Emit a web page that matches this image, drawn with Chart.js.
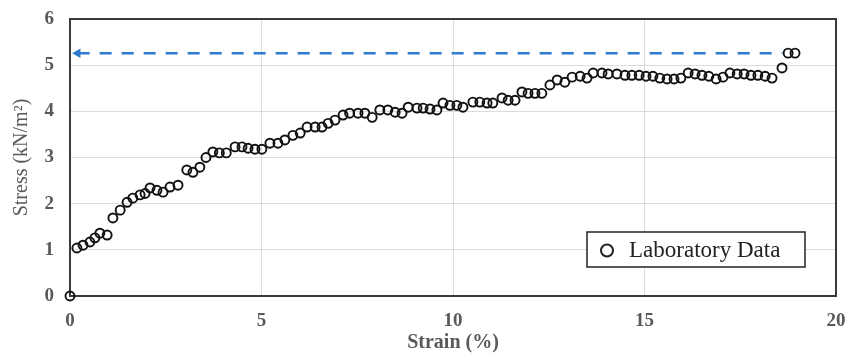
<!DOCTYPE html>
<html>
<head>
<meta charset="utf-8">
<script src="https://cdn.jsdelivr.net/npm/chart.js@4/dist/chart.umd.min.js"></script>
<style>
  body { margin: 0; background: #fff; }
</style>
</head>
<body>
<canvas id="chart" width="846" height="354"></canvas>
<script>
const strain = [
  0, 0.18, 0.34, 0.52, 0.65, 0.78, 0.97, 1.12, 1.31, 1.49, 1.64, 1.83, 1.96, 2.09, 2.27,
  2.43, 2.61, 2.82, 3.05, 3.21, 3.39, 3.55, 3.73, 3.90, 4.08, 4.31, 4.49, 4.65, 4.83,
  5.01, 5.22, 5.43, 5.61, 5.82, 6.01, 6.19, 6.40, 6.58, 6.74, 6.92, 7.13, 7.30, 7.52,
  7.70, 7.89, 8.09, 8.30, 8.49, 8.67, 8.83, 9.06, 9.22, 9.40, 9.58, 9.74, 9.92, 10.10,
  10.26, 10.52, 10.70, 10.89, 11.04, 11.28, 11.44, 11.62, 11.80, 11.96, 12.14, 12.32,
  12.53, 12.72, 12.92, 13.11, 13.32, 13.50, 13.66, 13.89, 14.05, 14.28, 14.49, 14.67,
  14.86, 15.04, 15.22, 15.40, 15.59, 15.77, 15.95, 16.14, 16.32, 16.50, 16.68, 16.87,
  17.05, 17.23, 17.42, 17.60, 17.78, 17.96, 18.15, 18.33, 18.59, 18.75, 18.93
];
const stress = [
  0, 1.04, 1.10, 1.17, 1.26, 1.36, 1.32, 1.69, 1.86, 2.03, 2.12, 2.19, 2.22, 2.34, 2.29,
  2.25, 2.36, 2.40, 2.73, 2.68, 2.79, 3.00, 3.12, 3.10, 3.10, 3.23, 3.23, 3.20, 3.18,
  3.18, 3.31, 3.31, 3.38, 3.48, 3.53, 3.66, 3.66, 3.66, 3.74, 3.81, 3.92, 3.96, 3.96,
  3.96, 3.87, 4.03, 4.03, 3.98, 3.96, 4.09, 4.07, 4.07, 4.05, 4.03, 4.18, 4.13, 4.13,
  4.09, 4.20, 4.20, 4.18, 4.18, 4.29, 4.24, 4.24, 4.42, 4.39, 4.39, 4.39,
  4.57, 4.68, 4.63, 4.74, 4.76, 4.72, 4.83, 4.83, 4.81, 4.81, 4.78, 4.78,
  4.78, 4.76, 4.76, 4.72, 4.70, 4.70, 4.72, 4.83, 4.81, 4.78, 4.76, 4.70,
  4.74, 4.83, 4.81, 4.81, 4.78, 4.78, 4.76, 4.72, 4.94, 5.26, 5.26
];
// dashed peak line (arrow end first)
const peakX = [0.2, 18.6];
const peakY = [5.26, 5.26];

const xTicks = [0, 5, 10, 15, 20];
const yTicks = [0, 1, 2, 3, 4, 5, 6];

const serif = "'Liberation Serif', 'Times New Roman', serif";
const gray = "#595959";

const frame = {
  id: "frame",
  beforeDatasetsDraw(chart) {
    const { ctx, chartArea: a } = chart;
    ctx.save();
    ctx.strokeStyle = "#3a3a3a";
    ctx.lineWidth = 2;
    ctx.strokeRect(a.left, a.top, a.right - a.left, a.bottom - a.top);
    ctx.restore();
  },
  afterDraw(chart) {
    // legend box inside the plot
    const { ctx, chartArea: a } = chart;
    const ds = chart.data.datasets[0];
    const w = 218, h = 35;
    const x = a.right - 249, y = a.top + 213;
    ctx.save();
    ctx.fillStyle = "#fff";
    ctx.fillRect(x, y, w, h);
    ctx.strokeStyle = "#222";
    ctx.lineWidth = 1.5;
    ctx.strokeRect(x, y, w, h);
    ctx.beginPath();
    ctx.arc(x + 20, y + h / 2 + 1, 6, 0, Math.PI * 2);
    ctx.lineWidth = 2;
    ctx.stroke();
    ctx.fillStyle = "#222";
    ctx.font = "23px " + serif;
    ctx.textBaseline = "middle";
    ctx.fillText(ds.label, x + 42, y + h / 2 + 1);
    ctx.restore();
  }
};

new Chart(document.getElementById("chart"), {
  type: "scatter",
  data: {
    datasets: [
      {
        label: "Laboratory Data",
        data: strain.map((s, i) => ({ x: s, y: stress[i] })),
        pointStyle: "circle",
        pointRadius: 4.5,
        pointBorderWidth: 1.9,
        borderColor: "#111",
        backgroundColor: "rgba(255,255,255,0)",
        showLine: false,
        clip: false,
        order: 1
      },
      {
        label: "Peak",
        data: peakX.map((s, i) => ({ x: s, y: peakY[i] })),
        showLine: true,
        borderColor: "#2E7BCF",
        backgroundColor: "#2E7BCF",
        borderWidth: 2.5,
        borderDash: [12, 10],
        pointStyle: "triangle",
        pointRadius: [5.5, 0],
        pointRotation: -90,
        pointBorderWidth: 0,
        clip: false,
        order: 2
      }
    ]
  },
  options: {
    responsive: false,
    animation: false,
    devicePixelRatio: 1,
    layout: {
      padding: { top: 19, right: 10, bottom: 0, left: 0 }
    },
    plugins: {
      legend: { display: false },
      tooltip: { enabled: false }
    },
    scales: {
      x: {
        type: "linear",
        min: 0,
        max: 20,
        afterBuildTicks(scale) {
          scale.ticks = xTicks.map(v => ({ value: v }));
        },
        afterFit(scale) { scale.height = 58; },
        border: { display: false },
        grid: { color: "#dcdcdc", lineWidth: 1, drawTicks: true, tickLength: 14, tickColor: "rgba(0,0,0,0)" },
        ticks: {
          padding: 0,
          color: gray,
          font: { family: serif, size: 19, weight: "bold" }
        },
        title: {
          display: true,
          text: "Strain (%)",
          color: gray,
          padding: { top: 0, bottom: 0 },
          font: { family: serif, size: 20, weight: "bold", lineHeight: 1.1 }
        }
      },
      y: {
        type: "linear",
        min: 0,
        max: 6,
        afterBuildTicks(scale) {
          scale.ticks = yTicks.map(v => ({ value: v }));
        },
        afterFit(scale) { scale.width = 70; },
        border: { display: false },
        grid: { color: "#dcdcdc", lineWidth: 1, drawTicks: true, tickLength: 16, tickColor: "rgba(0,0,0,0)" },
        ticks: {
          padding: 0,
          color: gray,
          font: { family: serif, size: 19, weight: "bold" }
        },
        title: {
          display: true,
          text: "Stress (kN/m²)",
          color: gray,
          padding: { top: 12, bottom: 0 },
          font: { family: serif, size: 20, lineHeight: 1.0 }
        }
      }
    }
  },
  plugins: [frame]
});
</script>
</body>
</html>
